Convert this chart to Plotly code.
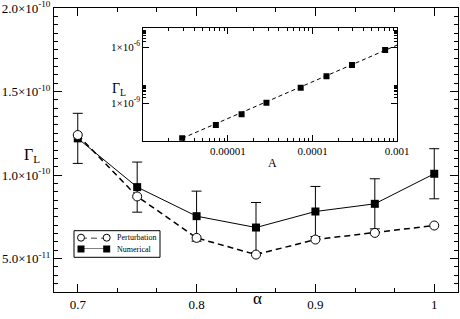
import plotly.graph_objects as go

# ---- main panel data ----
alpha = [0.7, 0.75, 0.8, 0.85, 0.9, 0.95, 1.0]
perturbation = [1.24e-10, 0.872e-10, 0.624e-10, 0.524e-10, 0.614e-10, 0.654e-10, 0.698e-10]
numerical = [1.22e-10, 0.928e-10, 0.754e-10, 0.686e-10, 0.782e-10, 0.828e-10, 1.008e-10]
numerical_err = [1.5e-11, 1.5e-11, 1.5e-11, 1.5e-11, 1.5e-11, 1.5e-11, 1.5e-11]

y_tickvals = [5e-11, 1e-10, 1.5e-10, 2e-10]
y_ticktext = ["5.0×10<sup>-11</sup>", "1.0×10<sup>-10</sup>", "1.5×10<sup>-10</sup>", "2.0×10<sup>-10</sup>"]
x_tickvals = [0.7, 0.8, 0.9, 1.0]
x_ticktext = ["0.7", "0.8", "0.9", "1"]

# ---- inset data ----
inset_A = [2.88e-6, 7.2e-6, 1.45e-5, 2.85e-5, 7.24e-5, 1.46e-4, 2.92e-4, 7.2e-4]
inset_gamma = [1.34e-11, 6.9e-11, 2.56e-10, 1.07e-9, 6.75e-9, 2.74e-8, 1.1e-7, 6.93e-7]
fit_A = [2.88e-6, 1e-3]
fit_gamma = [1.34e-11, 1.28e-6]
inset_x_tickvals = [1e-5, 1e-4, 1e-3]
inset_x_ticktext = ["0.00001", "0.0001", "0.001"]
inset_y_tickvals = [1e-9, 1e-6]
inset_y_ticktext = ["1×10<sup>-9</sup>", "1×10<sup>-6</sup>"]

legend_names = ["Perturbation", "Numerical"]

FONT = "Liberation Serif"
W, H = 460, 319
L, R, T, B = 54, 2, 8, 27
PW, PH = W - L - R, H - T - B


def px(x):
    return (x - L) / PW


def py(y):
    return 1 - (y - T) / PH


fig = go.Figure()

fig.add_trace(go.Scatter(
    x=alpha, y=perturbation, mode="lines", showlegend=False,
    line=dict(color="black", width=1.5, dash="6px,4px"),
    xaxis="x", yaxis="y", hoverinfo="skip"))
fig.add_trace(go.Scatter(
    x=alpha, y=numerical, mode="lines+markers", showlegend=False,
    line=dict(color="black", width=1),
    marker=dict(symbol="square", size=8, color="black"),
    error_y=dict(type="data", array=numerical_err, color="black", thickness=1, width=5),
    xaxis="x", yaxis="y"))
fig.add_trace(go.Scatter(
    x=alpha, y=perturbation, mode="markers", showlegend=False,
    marker=dict(symbol="circle", size=9, color="white", line=dict(width=1, color="black")),
    xaxis="x", yaxis="y"))

# inset
fig.add_trace(go.Scatter(
    x=fit_A, y=fit_gamma, mode="lines", showlegend=False,
    line=dict(color="black", width=1, dash="4px,3px"),
    xaxis="x2", yaxis="y2", hoverinfo="skip"))
fig.add_trace(go.Scatter(
    x=inset_A, y=inset_gamma, mode="markers", showlegend=False,
    marker=dict(symbol="square", size=6, color="black"),
    xaxis="x2", yaxis="y2"))

# legend glyphs (drawn on a hidden helper axis pair)
fig.add_trace(go.Scatter(
    x=[0, 1], y=[1, 1], mode="lines+markers", showlegend=False, cliponaxis=False,
    line=dict(color="black", width=1.5, dash="6px,4px"),
    marker=dict(symbol="circle", size=7, color="white", line=dict(width=1, color="black")),
    xaxis="x3", yaxis="y3", hoverinfo="skip"))
fig.add_trace(go.Scatter(
    x=[0, 1], y=[0, 0], mode="lines+markers", showlegend=False, cliponaxis=False,
    line=dict(color="black", width=1),
    marker=dict(symbol="square", size=7, color="black"),
    xaxis="x3", yaxis="y3", hoverinfo="skip"))

main_y_minor = [v * 1e-12 for v in range(30, 201, 5)]
inset_x_minor = [k * 10.0 ** e for e in (-6, -5, -4) for k in range(2, 10)]
inset_y_minor = [k * 10.0 ** e for e in (-9, -6) for k in range(2, 10)]

axis_common = dict(showline=True, linecolor="black", linewidth=1, mirror="ticks",
                   showgrid=False, zeroline=False, automargin=False,
                   ticklabeloverflow="allow",
                   ticks="inside", tickwidth=1, tickcolor="black")

fig.update_layout(
    width=W, height=H,
    margin=dict(l=L, r=R, t=T, b=B),
    paper_bgcolor="white", plot_bgcolor="white",
    font=dict(family=FONT, color="black", size=11),
    showlegend=False,
    xaxis=dict(
        domain=[0, 1], range=[0.68, 1.02],
        tickmode="array", tickvals=x_tickvals, ticktext=x_ticktext, ticklen=8,
        tickfont=dict(family=FONT, size=13),
        minor=dict(tickmode="linear", tick0=0.7, dtick=0.1 / 3, ticks="inside", ticklen=4,
                   tickcolor="black", showgrid=False),
        **axis_common,
    ),
    yaxis=dict(
        domain=[0, 1], range=[3e-11, 2.0005e-10],
        tickmode="array", tickvals=y_tickvals, ticktext=y_ticktext, ticklen=8,
        tickfont=dict(family=FONT, size=13),
        minor=dict(tickmode="array", tickvals=main_y_minor, ticks="inside", ticklen=4,
                   tickcolor="black", showgrid=False),
        **axis_common,
    ),
    xaxis2=dict(
        domain=[px(143.3), px(397.3)], anchor="y2", type="log", range=[-6, -2.999],
        tickmode="array", tickvals=inset_x_tickvals, ticktext=inset_x_ticktext, ticklen=6,
        tickfont=dict(family=FONT, size=11),
        minor=dict(tickmode="array", tickvals=inset_x_minor, ticks="inside", ticklen=3,
                   tickcolor="black", showgrid=False),
        **axis_common,
    ),
    yaxis2=dict(
        domain=[py(140.7), py(28.3)], anchor="x2", type="log", range=[-11, -5],
        tickmode="array", tickvals=inset_y_tickvals, ticktext=inset_y_ticktext, ticklen=6,
        tickfont=dict(family=FONT, size=11),
        minor=dict(tickmode="array", tickvals=inset_y_minor, ticks="inside", ticklen=3,
                   tickcolor="black", showgrid=False),
        **axis_common,
    ),
    xaxis3=dict(domain=[px(81), px(106.7)], anchor="y3", range=[0, 1], visible=False),
    yaxis3=dict(domain=[py(249), py(237.7)], anchor="x3", range=[0, 1], visible=False),
)

# legend box
fig.add_shape(type="rect", xref="paper", yref="paper",
              x0=px(74), x1=px(160), y0=py(257.3), y1=py(230.7),
              line=dict(color="black", width=1), fillcolor="rgba(0,0,0,0)", layer="below")
for name, yy in zip(legend_names, [237.7, 249]):
    fig.add_annotation(text=name, x=px(115), y=py(yy), xref="paper", yref="paper",
                       xanchor="left", yanchor="middle", showarrow=False,
                       font=dict(family=FONT, size=8))

# axis titles
fig.add_annotation(text="α", x=px(257), y=py(310), xref="paper", yref="paper",
                   showarrow=False, font=dict(family=FONT, size=17))
fig.add_annotation(text="Γ<sub>L</sub>", x=px(22), y=py(155), xref="paper", yref="paper",
                   showarrow=False, font=dict(family=FONT, size=16))
fig.add_annotation(text="A", x=px(272), y=py(163), xref="paper", yref="paper",
                   showarrow=False, font=dict(family=FONT, size=12))
fig.add_annotation(text="Γ<sub>L</sub>", x=px(110), y=py(79), xref="paper", yref="paper",
                   showarrow=False, font=dict(family=FONT, size=14))

fig.write_html("out.html", config={"displayModeBar": False},
               post_script="document.body.style.margin='0';")
